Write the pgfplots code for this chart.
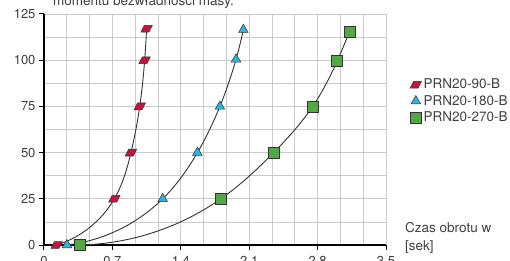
\documentclass[border=0pt]{standalone}
\usepackage{fontspec}
\setmainfont{TeX Gyre Heros}
\usepackage{pgfplots}
\pgfplotsset{compat=1.18}
\usetikzlibrary{hobby}
\definecolor{txt}{HTML}{404040}
\definecolor{gridc}{HTML}{CACACA}
\definecolor{cred}{HTML}{C2143E}
\definecolor{cblue}{HTML}{2DB4E2}
\definecolor{cgreen}{HTML}{52A843}
\definecolor{cline}{HTML}{333333}
\begin{document}
\begin{tikzpicture}
\path[use as bounding box, clip] (-44pt,-15pt) rectangle (466pt,245pt);
\begin{axis}[
  at={(0pt,0pt)}, anchor=south west,
  scale only axis, width=342pt, height=231pt,
  xmin=0, xmax=3.5, ymin=0, ymax=125,
  xtick={0,0.7,1.4,2.1,2.8,3.5},
  xticklabels={0,0.7,1.4,2.1,2.8,3.5},
  ytick={0,25,50,75,100,125},
  minor x tick num=2, minor y tick num=1,
  grid=both,
  major grid style={gridc, line width=0.8pt},
  minor grid style={gridc, line width=0.8pt},
  axis lines*=left,
  axis line style={black, line width=1.2pt},
  tick align=outside,
  major tick length=5pt,
  minor tick length=0pt,
  tick style={black, line width=1pt},
  tick label style={font=\fontsize{13}{15}\selectfont, text=txt},
  xticklabel style={yshift=-3pt},
  /pgf/number format/assume math mode=true,
  clip=false,
  legend style={at={(1.07,0.728)}, anchor=north west, draw=none, fill=none,
    font=\fontsize{13.5}{16}\selectfont, text=txt, inner sep=0pt, row sep=1pt,
    /tikz/every even column/.append style={column sep=1pt}},
  legend cell align=left,
  legend image code/.code={\draw[#1] plot coordinates {(5pt,0pt)};},
]
\addplot[hobby, cline, line width=0.9pt, mark=square*, mark size=4pt,
  mark options={fill=cred, draw=cline, line width=0.5pt, xslant=0.5, yscale=0.85}, forget plot]
  coordinates {(0.13,0) (0.72,25) (0.89,50) (0.98,75) (1.03,100) (1.05,117)};
\addplot[hobby, cline, line width=0.9pt, mark=triangle*, mark size=5.5pt,
  mark options={fill=cblue, draw=cline, line width=0.5pt}, forget plot]
  coordinates {(0.235,0) (1.215,25) (1.57,50) (1.80,75) (1.965,100.5) (2.04,116.5)};
\addplot[hobby, cline, line width=0.9pt, mark=square*, mark size=5.5pt,
  mark options={fill=cgreen, draw=cline, line width=0.5pt}, forget plot]
  coordinates {(0.37,0) (1.81,25) (2.35,50) (2.75,75) (3.0,99.5) (3.125,115.5)};
\addlegendimage{only marks, mark=square*, mark size=4pt, mark options={fill=cred, draw=cline, line width=0.5pt, xslant=0.5, yscale=0.85}}
\addlegendentry{PRN20-90-B}
\addlegendimage{only marks, mark=triangle*, mark size=5.5pt, mark options={fill=cblue, draw=cline, line width=0.5pt}}
\addlegendentry{PRN20-180-B}
\addlegendimage{only marks, mark=square*, mark size=5.5pt, mark options={fill=cgreen, draw=cline, line width=0.5pt}}
\addlegendentry{PRN20-270-B}
\end{axis}
\node[anchor=base, font=\fontsize{13.5}{16}\selectfont, text=txt] at (99.5pt,239pt) {momentu bezwładności masy.};
\node[anchor=base west, align=left, font=\fontsize{13.5}{18}\selectfont, text=txt, inner sep=0pt] at (361pt,-5pt) {Czas obrotu w\\{}[sek]};
\end{tikzpicture}
\end{document}
